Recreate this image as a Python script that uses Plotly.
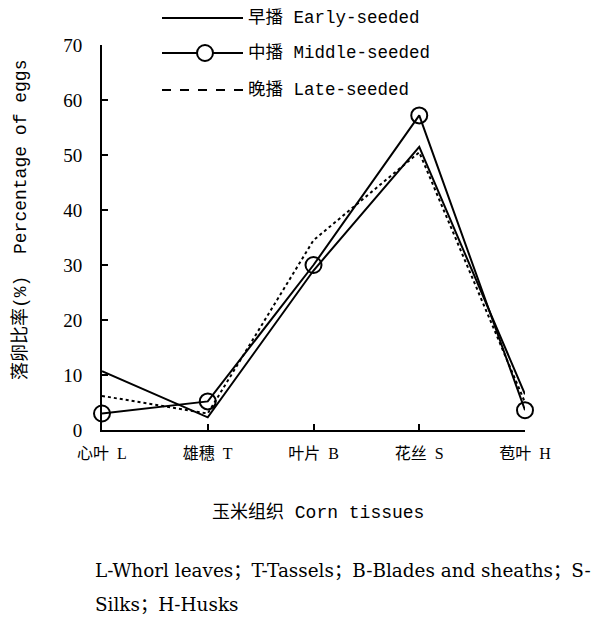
import plotly.graph_objects as go

categories = ["心叶\u00a0\u00a0L", "雄穗\u00a0\u00a0T", "叶片\u00a0\u00a0B", "花丝\u00a0\u00a0S", "苞叶\u00a0\u00a0H"]
early = [10.7, 2.3, 29.0, 51.5, 6.5]
middle = [3.0, 5.2, 30.0, 57.2, 3.6]
late = [6.2, 3.0, 34.5, 50.5, 5.0]
y_ticks = [0, 10, 20, 30, 40, 50, 60, 70]
legend_labels = ["早播 Early-seeded", "中播 Middle-seeded", "晚播 Late-seeded"]

W, H = 603, 619
L, R, T, B = 102, 525, 45, 430

def px(x):
    return (x - L) / (R - L)

def py(y):
    return (B - y) / (B - T)

xs = list(range(len(categories)))
fig = go.Figure()
fig.add_trace(go.Scatter(x=xs, y=early, mode="lines",
                         line=dict(color="black", width=2), cliponaxis=False, showlegend=False))
fig.add_trace(go.Scatter(x=xs, y=middle, mode="lines+markers",
                         line=dict(color="black", width=2),
                         marker=dict(symbol="circle-open", size=16, color="black", line=dict(width=2)),
                         cliponaxis=False, showlegend=False))
fig.add_trace(go.Scatter(x=xs, y=late, mode="lines",
                         line=dict(color="black", width=2, dash="dot"), cliponaxis=False, showlegend=False))

serif = "Liberation Serif, Noto Sans CJK SC, serif"
serif2 = "DejaVu Serif, Noto Sans CJK SC, serif"
mono = "Liberation Mono, Noto Sans CJK SC, monospace"

shapes = []
annotations = []
# manual legend
leg_y = [18, 53, 90]
dashes = ["solid", "solid", "dash"]
for i, (yy, d) in enumerate(zip(leg_y, dashes)):
    shapes.append(dict(type="line", xref="paper", yref="paper",
                       x0=px(162), x1=px(243), y0=py(yy), y1=py(yy),
                       line=dict(color="black", width=2, dash=d)))
    annotations.append(dict(xref="paper", yref="paper", x=px(246), y=py(yy),
                            xanchor="left", yanchor="middle", showarrow=False,
                            text=legend_labels[i], font=dict(family=mono, size=17.5, color="black")))
shapes.append(dict(type="circle", xref="paper", yref="paper",
                   x0=px(197), x1=px(213), y0=py(61), y1=py(45),
                   line=dict(color="black", width=2), fillcolor="white"))

annotations.append(dict(xref="paper", yref="paper", x=px(20), y=py(220),
                        textangle=-90, showarrow=False, xanchor="center", yanchor="middle",
                        text="落卵比率(%)\u00a0\u00a0Percentage of eggs",
                        font=dict(family=mono, size=18, color="black")))
annotations.append(dict(xref="paper", yref="paper", x=px(318), y=py(512),
                        showarrow=False, xanchor="center", yanchor="middle",
                        text="玉米组织 Corn tissues",
                        font=dict(family=mono, size=18, color="black")))
annotations.append(dict(xref="paper", yref="paper", x=px(93), y=py(570),
                        showarrow=False, xanchor="left", yanchor="middle",
                        text="L-Whorl leaves；T-Tassels；B-Blades and sheaths；S-",
                        font=dict(family=serif2, size=18.4, color="black")))
annotations.append(dict(xref="paper", yref="paper", x=px(93), y=py(604),
                        showarrow=False, xanchor="left", yanchor="middle",
                        text="Silks；H-Husks",
                        font=dict(family=serif2, size=18.4, color="black")))

fig.update_layout(
    width=W, height=H,
    margin=dict(l=L, r=W - R, t=T, b=H - B, autoexpand=False),
    paper_bgcolor="white", plot_bgcolor="white",
    shapes=shapes, annotations=annotations,
    xaxis=dict(range=[0, 4], tickvals=xs, ticktext=categories, showgrid=False, zeroline=False,
               automargin=False,
               showline=True, linecolor="black", linewidth=2, ticks="inside", ticklen=6,
               tickwidth=2, tickcolor="black", ticklabelstandoff=8,
               tickfont=dict(family=serif, size=16, color="black")),
    yaxis=dict(range=[0, 70], tickvals=y_ticks, showgrid=False, zeroline=False,
               automargin=False,
               showline=True, linecolor="black", linewidth=2, ticks="inside", ticklen=6,
               tickwidth=2, tickcolor="black", ticklabelstandoff=14,
               tickfont=dict(family=serif, size=19, color="black")),
)

fig.write_html("out.html", config={"displayModeBar": False},
               post_script="document.body.style.margin='0';")
